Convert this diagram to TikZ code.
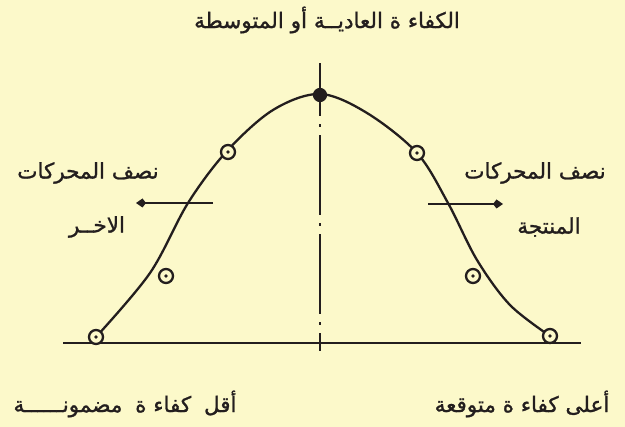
\documentclass[tikz,border=0pt]{standalone}
\usepackage{fontspec}
\newfontfamily\arabicfont[Script=Arabic,FakeBold=1.2]{DejaVu Sans}
\TeXXeTstate=1
\usetikzlibrary{arrows.meta}
\definecolor{paper}{RGB}{252,249,202}
\definecolor{ink}{RGB}{35,30,30}
\begin{document}
\begin{tikzpicture}[x=1pt,y=-1pt,
  lbl/.style={font=\arabicfont\fontsize{21.5}{24}\selectfont, text=ink, inner sep=0pt},
  ring/.style={circle, draw=ink, line width=2.3pt, minimum size=14pt, inner sep=0pt, fill=paper,
    path picture={\fill[ink] (path picture bounding box.center) circle (1.8pt);}},
  peakdot/.style={circle, draw=ink, fill=ink, line width=1.2pt, minimum size=13pt, inner sep=0pt},
  curveline/.style={draw=ink, line width=2.3pt},
  axisline/.style={draw=ink, line width=2.7pt},
  midline/.style={draw=ink, line width=2.3pt, dash pattern=on 80pt off 8pt on 3pt off 8pt, dash phase=62pt},
  shiftarrow/.style={draw=ink, line width=2.1pt, -{Kite[length=10pt,width=9pt,inset=3.5pt]}}]
\fill[paper] (0,0) rectangle (625,427);
\useasboundingbox (0,0) rectangle (625,427);
% axes
\coordinate (bl) at (63,343);
\coordinate (br) at (581,343);
\coordinate (mtop) at (320,63);
\coordinate (mbot) at (320,351);
\draw[axisline] (bl) -- (br);
\draw[midline] (mbot) -- (mtop);
% curve
\draw[curveline] plot[smooth, tension=0.55] coordinates {(96,337) (150,273) (188,203) (227,151) (273,110) (320,94) (367,113) (417,153) (448,203) (477,260) (510,305) (550,336)};
% markers
\node[peakdot] (peak) at (320,95) {};
\node[ring] (l1) at (228,152) {};
\node[ring] (l2) at (166,276) {};
\node[ring] (l3) at (96,337) {};
\node[ring] (r1) at (417,153) {};
\node[ring] (r2) at (473,276) {};
\node[ring] (r3) at (550,336) {};
% arrows
\coordinate (la0) at (213,203);
\coordinate (la1) at (136,203);
\coordinate (ra0) at (428,204);
\coordinate (ra1) at (503,204);
\draw[shiftarrow] (la0) -- (la1);
\draw[shiftarrow] (ra0) -- (ra1);
% labels
\node[lbl] (top) at (327,20) {\beginR الكفاء ة العاديــة أو المتوسطة\endR};
\node[lbl] (lh1) at (88,173) {\beginR نصف المحركات\endR};
\node[lbl] (lh2) at (97,227) {\beginR الاخــر\endR};
\node[lbl] (rh1) at (535,173) {\beginR نصف المحركات\endR};
\node[lbl] (rh2) at (549,227) {\beginR المنتجة\endR};
\node[lbl] (bl1) at (125,404) {\beginR أقل\hspace{6pt} كفاء ة\hspace{6pt} مضمونــــــة\endR};
\node[lbl] (br1) at (522,404) {\beginR أعلى كفاء ة متوقعة\endR};
\end{tikzpicture}
\end{document}
